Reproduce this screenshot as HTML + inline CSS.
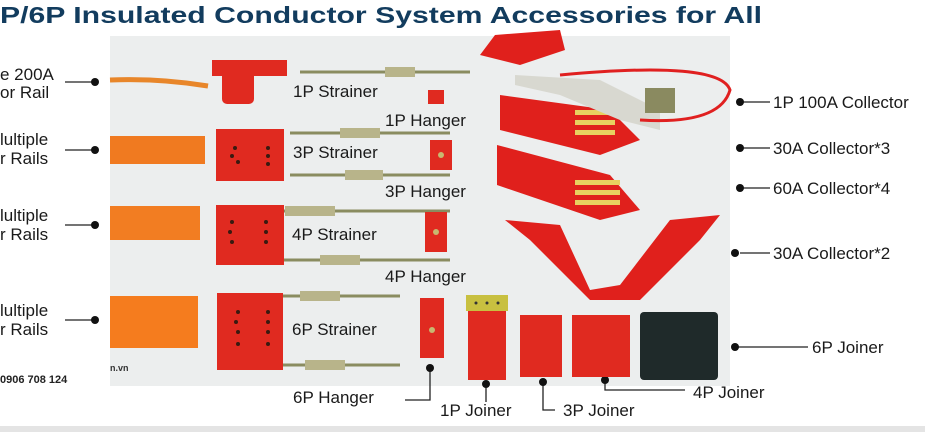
<!DOCTYPE html>
<html><head><meta charset="utf-8"><style>html,body{margin:0;padding:0;background:#fff}svg{display:block}text{font-family:"Liberation Sans",sans-serif}</style></head><body>
<svg width="925" height="432" viewBox="0 0 925 432" xmlns="http://www.w3.org/2000/svg">
<rect width="925" height="432" fill="#fff"/>
<rect x="110" y="36" width="620" height="350" fill="#eceeee"/>
<rect x="0" y="426" width="925" height="6" fill="#e4e4e4"/>
<text x="0" y="23" font-size="23" font-weight="bold" fill="#123c5e" textLength="762" lengthAdjust="spacingAndGlyphs">P/6P Insulated Conductor System Accessories for All</text>
<g font-size="17" fill="#1a1a1a">
<text x="0" y="80">e 200A</text><text x="0" y="98">or Rail</text>
<text x="0" y="145">lultiple</text><text x="0" y="164">r Rails</text>
<text x="0" y="221">lultiple</text><text x="0" y="240">r Rails</text>
<text x="0" y="316">lultiple</text><text x="0" y="335">r Rails</text>
<text x="293" y="97">1P Strainer</text>
<text x="385" y="126">1P Hanger</text>
<text x="293" y="158">3P Strainer</text>
<text x="385" y="197">3P Hanger</text>
<text x="292" y="240">4P Strainer</text>
<text x="385" y="282">4P Hanger</text>
<text x="292" y="335">6P Strainer</text>
<text x="293" y="403">6P Hanger</text>
<text x="440" y="416">1P Joiner</text>
<text x="563" y="416">3P Joiner</text>
<text x="693" y="398">4P Joiner</text>
<text x="812" y="353">6P Joiner</text>
<text x="773" y="108">1P 100A Collector</text>
<text x="773" y="154">30A Collector*3</text>
<text x="773" y="194">60A Collector*4</text>
<text x="773" y="259">30A Collector*2</text>
</g>
<text x="0" y="383" font-size="11" font-weight="bold" fill="#222">0906 708 124</text>
<text x="110" y="371" font-size="9" font-weight="bold" fill="#333">n.vn</text>
<g stroke="#222" stroke-width="1.3" fill="none">
<path d="M65 82H95M65 150H95M65 225H95M65 320H95"/>
<path d="M740 102H770M740 148H770M740 188H770M740 253H770M735 347H808"/>
<path d="M430 368V400H405M486 384V402M543 382V410H555M605 380V390H685"/>
</g>
<g fill="#111">
<circle cx="95" cy="82" r="4"/><circle cx="95" cy="150" r="4"/><circle cx="95" cy="225" r="4"/><circle cx="95" cy="320" r="4"/>
<circle cx="740" cy="102" r="4"/><circle cx="740" cy="148" r="4"/><circle cx="740" cy="188" r="4"/><circle cx="735" cy="253" r="4"/><circle cx="735" cy="347" r="4"/>
<circle cx="430" cy="368" r="4"/><circle cx="486" cy="384" r="4"/><circle cx="543" cy="382" r="4"/><circle cx="605" cy="380" r="4"/>
</g>
<path d="M110 80 Q160 78 208 86" stroke="#e8862a" stroke-width="5" fill="none"/>
<rect x="110" y="136" width="95" height="28" fill="#f07a20"/>
<rect x="110" y="206" width="90" height="34" fill="#f27d22"/>
<rect x="110" y="296" width="88" height="52" fill="#f57c1e"/>
<g stroke="#8a8c60" stroke-width="3">
<path d="M300 72H470M290 133H450M290 175H450M280 211H450M280 260H450M280 296H400M280 365H400"/>
</g>
<g fill="#b8b48a">
<rect x="385" y="67" width="30" height="10"/><rect x="340" y="128" width="40" height="10"/><rect x="345" y="170" width="38" height="10"/>
<rect x="285" y="206" width="50" height="10"/><rect x="320" y="255" width="40" height="10"/><rect x="300" y="291" width="40" height="10"/><rect x="305" y="360" width="40" height="10"/>
</g>
<g fill="#e02a20">
<rect x="212" y="60" width="75" height="16"/><rect x="222" y="64" width="32" height="40" rx="5"/>
<rect x="216" y="129" width="68" height="52"/>
<rect x="216" y="205" width="68" height="60"/>
<rect x="217" y="293" width="66" height="77"/>
<rect x="428" y="90" width="16" height="14"/>
<rect x="430" y="140" width="22" height="30"/>
<rect x="425" y="212" width="22" height="40"/>
<rect x="420" y="298" width="24" height="60"/>
<rect x="468" y="310" width="38" height="70"/>
<rect x="520" y="315" width="42" height="62"/>
<rect x="572" y="315" width="58" height="62"/>
</g>
<g fill="#3a1a10">
<circle cx="235" cy="148" r="2"/><circle cx="232" cy="156" r="2"/><circle cx="238" cy="162" r="2"/><circle cx="268" cy="148" r="2"/><circle cx="268" cy="156" r="2"/><circle cx="268" cy="164" r="2"/>
<circle cx="232" cy="222" r="2"/><circle cx="230" cy="232" r="2"/><circle cx="232" cy="242" r="2"/><circle cx="266" cy="222" r="2"/><circle cx="266" cy="232" r="2"/><circle cx="266" cy="242" r="2"/>
<circle cx="238" cy="312" r="2"/><circle cx="236" cy="322" r="2"/><circle cx="238" cy="332" r="2"/><circle cx="238" cy="344" r="2"/><circle cx="268" cy="312" r="2"/><circle cx="268" cy="322" r="2"/><circle cx="268" cy="332" r="2"/><circle cx="268" cy="344" r="2"/>
</g>
<g fill="#c8b870"><circle cx="441" cy="155" r="3"/><circle cx="436" cy="232" r="3"/><circle cx="432" cy="330" r="3"/></g>
<rect x="466" y="295" width="42" height="16" fill="#c8c040"/>
<g fill="#333"><circle cx="476" cy="303" r="1.5"/><circle cx="487" cy="303" r="1.5"/><circle cx="498" cy="303" r="1.5"/></g>
<rect x="640" y="312" width="78" height="68" rx="4" fill="#1f2a2a"/>
<g fill="#e0201c">
<path d="M480 55 L495 35 L560 30 L565 50 L520 65 Z"/>
<path d="M500 95 L610 110 L640 140 L600 155 L500 130 Z"/>
<path d="M497 145 L610 175 L640 210 L600 220 L497 185 Z"/>
<path d="M505 220 L560 225 L590 290 L620 285 L670 220 L720 215 L700 240 L640 300 L590 300 L530 240 Z"/>
</g>
<g fill="#e8d060">
<rect x="575" y="110" width="40" height="5"/><rect x="575" y="120" width="40" height="5"/><rect x="575" y="130" width="40" height="5"/>
<rect x="575" y="180" width="45" height="5"/><rect x="575" y="190" width="45" height="5"/><rect x="575" y="200" width="45" height="5"/>
</g>
<path d="M515 75 L600 80 L660 110 L660 130 L620 120 L560 95 L515 85 Z" fill="#d8d8d0"/>
<rect x="645" y="88" width="30" height="25" fill="#8a8a60"/>
<path d="M560 75 Q720 60 730 90 Q720 125 640 120" stroke="#e02020" stroke-width="3" fill="none"/>
</svg>
</body></html>
